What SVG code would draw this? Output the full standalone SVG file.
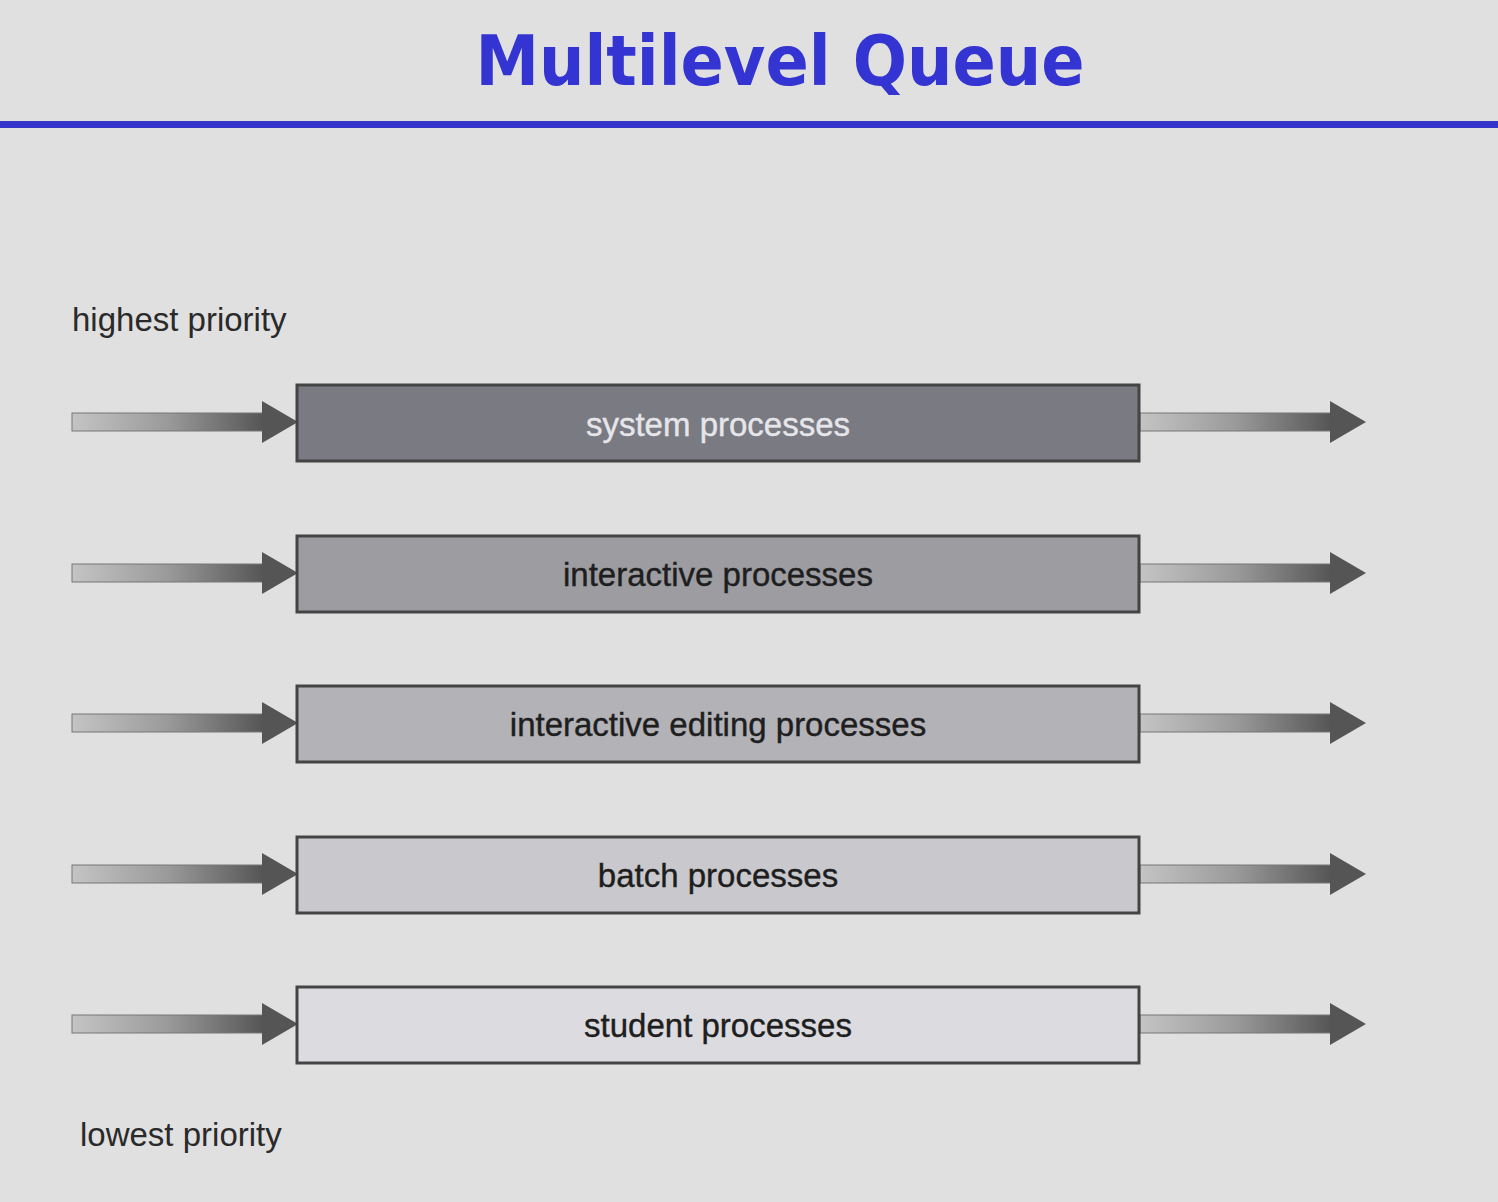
<svg xmlns="http://www.w3.org/2000/svg" width="1498" height="1202" viewBox="0 0 1498 1202">
<defs>
<linearGradient id="shaft" x1="0" y1="0" x2="1" y2="0">
<stop offset="0" stop-color="#c4c4c4"/>
<stop offset="0.5" stop-color="#9a9a9a"/>
<stop offset="1" stop-color="#555"/>
</linearGradient>
<g id="arrowL">
<rect x="0" y="-9" width="192" height="18" fill="url(#shaft)" stroke="#777" stroke-width="1"/>
<path d="M190,-21 L226,0 L190,21 Z" fill="#555"/>
</g>
</defs>
<style>
.box{stroke:#444;stroke-width:3}
.lbl{font-family:"Liberation Sans",Arial,sans-serif;font-size:33px;text-anchor:middle;fill:#1e1e1e;stroke:#1e1e1e;stroke-width:0.4}
.side{font-family:"Liberation Sans",Arial,sans-serif;font-size:33px;fill:#2a2a2a}
</style>
<rect width="1498" height="1202" fill="#e0e0e0"/>
<text x="780" y="85" text-anchor="middle" font-family="DejaVu Sans,Verdana,sans-serif" font-weight="bold" font-size="70" fill="#3434d2" textLength="609" lengthAdjust="spacingAndGlyphs">Multilevel Queue</text>
<rect x="0" y="121" width="1498" height="7" fill="#3434c8"/>
<text class="side" x="72" y="331">highest priority</text>
<text class="side" x="80" y="1146">lowest priority</text>
<g id="connectors">
<use href="#arrowL" x="72" y="422"/>
<use href="#arrowL" x="1140" y="422"/>
<use href="#arrowL" x="72" y="573"/>
<use href="#arrowL" x="1140" y="573"/>
<use href="#arrowL" x="72" y="723"/>
<use href="#arrowL" x="1140" y="723"/>
<use href="#arrowL" x="72" y="874"/>
<use href="#arrowL" x="1140" y="874"/>
<use href="#arrowL" x="72" y="1024"/>
<use href="#arrowL" x="1140" y="1024"/>
</g>
<g id="system">
<rect class="box" x="297" y="385" width="842" height="76" fill="#7a7a82"/>
<text class="lbl" x="718" y="436" style="fill:#e6e6ea;stroke:#e6e6ea">system processes</text>
</g>
<g id="interactive">
<rect class="box" x="297" y="536" width="842" height="76" fill="#9c9ca1"/>
<text class="lbl" x="718" y="586">interactive processes</text>
</g>
<g id="editing">
<rect class="box" x="297" y="686" width="842" height="76" fill="#b2b2b7"/>
<text class="lbl" x="718" y="736">interactive editing processes</text>
</g>
<g id="batch">
<rect class="box" x="297" y="837" width="842" height="76" fill="#c9c9cd"/>
<text class="lbl" x="718" y="887">batch processes</text>
</g>
<g id="student">
<rect class="box" x="297" y="987" width="842" height="76" fill="#dcdce0"/>
<text class="lbl" x="718" y="1037">student processes</text>
</g>
</svg>
